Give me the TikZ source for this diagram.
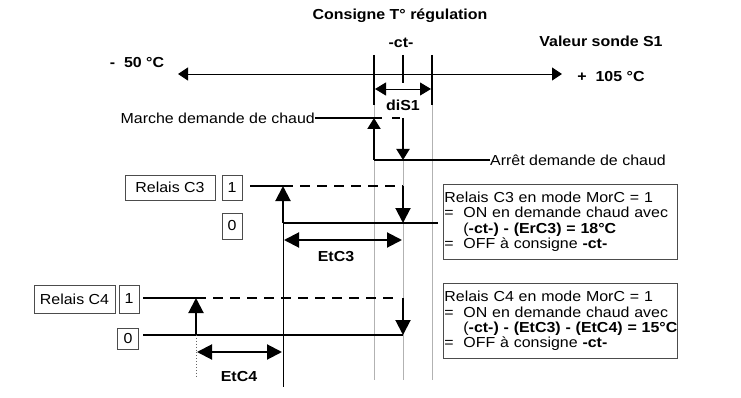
\documentclass[tikz,border=0pt]{standalone}
\usepackage{fontspec}
\setmainfont{Liberation Sans}[FakeStretch=1.1]
\usetikzlibrary{arrows.meta}
\begin{document}
\begin{tikzpicture}[x=1pt,y=-1pt,
  font=\fontsize{14.5pt}{15.3pt}\selectfont,
  thk/.style={line width=2pt},
  thn/.style={line width=0.9pt},
  guide/.style={line width=1pt, draw=black!30},
  dsh/.style={line width=2pt, dash pattern=on 10pt off 7pt},
  sarr/.style={-{Triangle[length=11pt,width=13pt]}},
  barr/.style={-{Triangle[length=15pt,width=15pt]}},
  sdbl/.style={{Triangle[length=11pt,width=13pt]}-{Triangle[length=11pt,width=13pt]}},
  bdbl/.style={{Triangle[length=15pt,width=15pt]}-{Triangle[length=15pt,width=15pt]}},
  lbl/.style={draw=black!70, line width=0.8pt, inner sep=0pt},
  bold/.style={font=\fontsize{14.5pt}{15.3pt}\selectfont\bfseries},
  txt/.style={inner sep=0pt},
  infobox/.style={draw=black!70, line width=0.8pt, anchor=north west, text width=232pt, align=left, inner xsep=1pt, inner ysep=2pt, minimum height=75pt}
]
\useasboundingbox (0,0) rectangle (741,398);

% key coordinates
\coordinate (gL) at (374,105);  \coordinate (gLb) at (374,380);
\coordinate (gM) at (403,160);  \coordinate (gMb) at (403,380);
\coordinate (gR) at (432,105);  \coordinate (gRb) at (432,380);

% guides
\draw[guide] (gL) -- (gLb);
\draw[guide] (gM) -- (gMb);
\draw[guide] (gR) -- (gRb);

% titles
\node[bold] (consigne) at (400,16) {Consigne T° régulation};
\node[bold] (ct) at (401,43) {-ct-};
\node[bold] (valeur) at (601,41) {Valeur sonde S1};
\node[bold] (m50) at (137,63) {-\ \ 50 °C};
\node[bold] (p105) at (611,77) {+\ \ 105 °C};

% axis
\coordinate (axL) at (178,74);
\coordinate (axR) at (562,74);
\draw[thn, {Triangle[length=10pt,width=13pt]}-{Triangle[length=10pt,width=13pt]}] (axL) -- (axR);

% ticks
\coordinate (tLt) at (374,55); \coordinate (tLb) at (374,105);
\coordinate (tMt) at (403,55); \coordinate (tMb) at (403,83);
\coordinate (tRt) at (432,55); \coordinate (tRb) at (432,105);
\draw[thk] (tLt) -- (tLb);
\draw[thk] (tMt) -- (tMb);
\draw[thk] (tRt) -- (tRb);

% diS1
\coordinate (dL) at (375,89); \coordinate (dR) at (431,89);
\draw[thn, sdbl] (dL) -- (dR);
\node[bold] (dis1) at (403,105) {diS1};

% marche / arret
\node[txt, anchor=east] (marche) at (315,118) {Marche demande de chaud};
\node[txt, anchor=west] (arret) at (490,160) {Arrêt demande de chaud};
\coordinate (mOn) at (374,118); \coordinate (mOff) at (403,118);
\coordinate (aOn) at (374,160); \coordinate (aOff) at (403,160);
\draw[thk] (marche.east) -- (mOn);
\draw[thk, dash pattern=on 8pt off 10pt] (mOn) -- (mOff);
\draw[thk, sarr] (mOff) -- (aOff);
\draw[thk] (aOn) -- (arret.west);
\draw[thk, sarr] (aOn) -- (mOn);

% relais C3
\node[lbl, minimum width=90pt, minimum height=25pt] (rc3) at (170,187.5) {Relais C3};
\node[lbl, minimum width=20pt, minimum height=25pt] (c3one) at (232,187.5) {1};
\node[lbl, minimum width=20pt, minimum height=26pt] (c3zero) at (232,226) {0};
\coordinate (c3a) at (250,186); \coordinate (c3up) at (283,186);
\coordinate (c3dn) at (403,186); \coordinate (c3lo) at (283,223);
\coordinate (c3loR) at (403,223); \coordinate (c3end) at (438,223);
\coordinate (c3bot) at (283,387);
\draw[thk] (c3a) -- (c3up);
\draw[dsh] (c3up) -- (c3dn);
\draw[thk] (c3lo) -- (c3end);
\draw[thk, barr] (c3dn) -- (c3loR);
\draw[thk, barr] (c3lo) -- (c3up);
\draw[thn] (c3lo) -- (c3bot);
\coordinate (e3L) at (284,240); \coordinate (e3R) at (402,240);
\draw[thk, bdbl] (e3L) -- (e3R);
\node[bold] (etc3) at (336,257) {EtC3};

% relais C4
\node[lbl, minimum width=81pt, minimum height=28pt] (rc4) at (74.5,299) {Relais C4};
\node[lbl, minimum width=20pt, minimum height=28pt] (c4one) at (129,299) {1};
\node[lbl, minimum width=21pt, minimum height=21pt] (c4zero) at (128,338.5) {0};
\coordinate (c4a) at (143,298); \coordinate (c4up) at (196,298);
\coordinate (c4dn) at (400,298); \coordinate (c4dt) at (403,298);
\coordinate (c4b) at (143,335); \coordinate (c4lo) at (196,335);
\coordinate (c4loR) at (403,335); \coordinate (c4bot) at (196,377);
\draw[thk] (c4a) -- (c4up);
\draw[dsh] (c4up) -- (c4dn);
\draw[thk] (c4b) -- (c4loR);
\draw[thk, barr] (c4dt) -- (c4loR);
\draw[thk, barr] (c4lo) -- (c4up);
\draw[thn, dotted, draw=black!60] (c4lo) -- (c4bot);
\coordinate (e4L) at (197,352); \coordinate (e4R) at (282,352);
\draw[thk, bdbl] (e4L) -- (e4R);
\node[bold] (etc4) at (239,377) {EtC4};

% info boxes
\node[infobox] (info3) at (443,184) {\mbox{Relais C3 en mode MorC = 1}\\
\mbox{\makebox[19pt][l]{=}ON en demande chaud avec}\\
\mbox{\hspace*{19pt}(\textbf{-ct-) - (ErC3) = 18°C}}\\
\mbox{\makebox[19pt][l]{=}OFF à consigne \textbf{-ct-}}};
\node[infobox] (info4) at (443,283) {\mbox{Relais C4 en mode MorC = 1}\\
\mbox{\makebox[19pt][l]{=}ON en demande chaud avec}\\
\mbox{\hspace*{19pt}(\textbf{-ct-) - (EtC3) - (EtC4) = 15°C}}\\
\mbox{\makebox[19pt][l]{=}OFF à consigne \textbf{-ct-}}};
\end{tikzpicture}
\end{document}
